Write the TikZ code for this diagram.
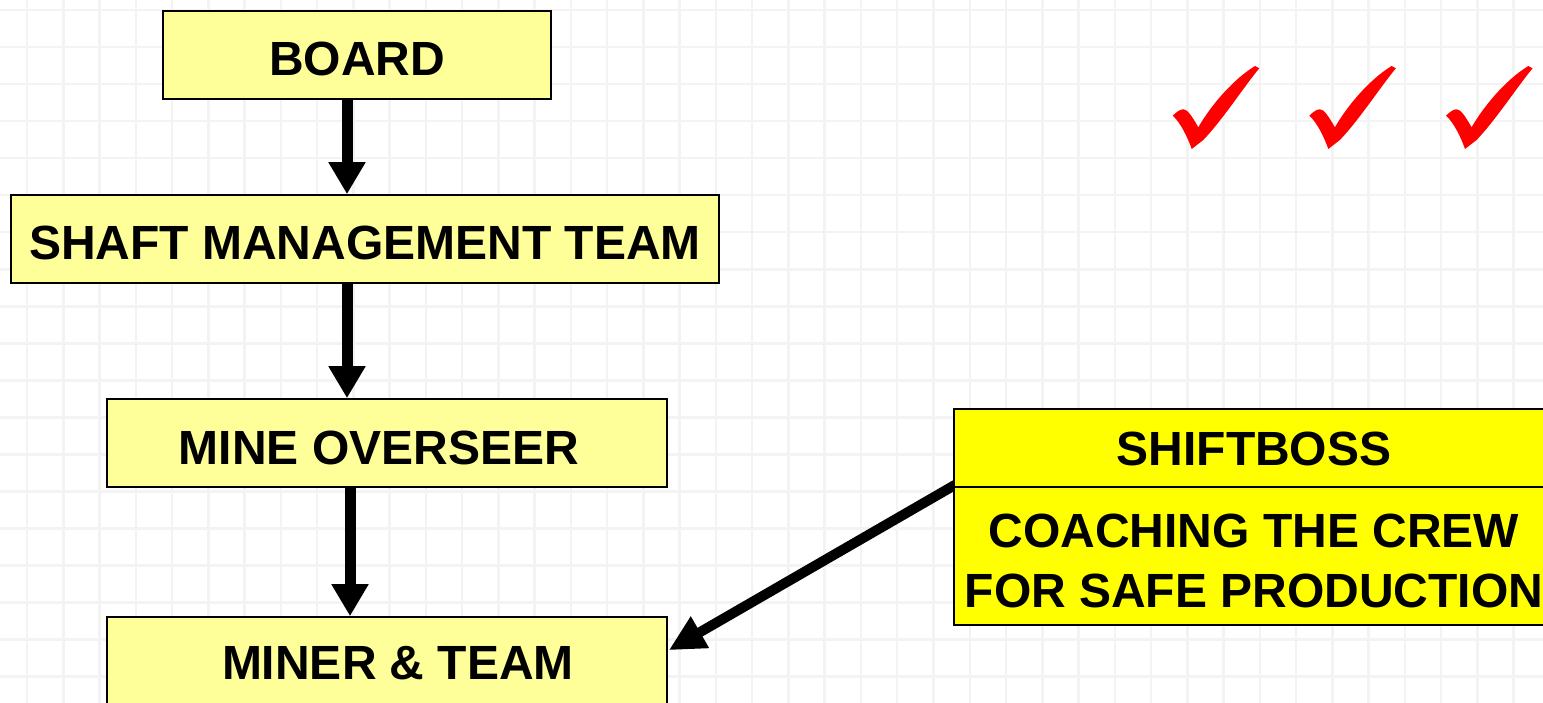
\documentclass[tikz,border=0pt]{standalone}
\usepackage{fontspec}
\setmainfont{Liberation Sans}
\usetikzlibrary{arrows.meta,calc}
\definecolor{paleyellow}{HTML}{FFFF99}
\definecolor{brightyellow}{HTML}{FFFF00}
\definecolor{gridgray}{HTML}{F3F3F3}
\definecolor{checkred}{HTML}{FF0000}
\pgfdeclarelayer{bg}
\pgfsetlayers{bg,main}
\begin{document}
\begin{tikzpicture}[x=1pt,y=1pt,
  box/.style={draw=black,line width=1.6pt,fill=paleyellow,inner sep=0pt,minimum height=88pt,
    font=\bfseries\fontsize{48}{60}\selectfont,text height=42pt,text depth=0pt},
  boxtext/.style={font=\bfseries\fontsize{48}{60}\selectfont,align=center,inner sep=0pt},
  arr/.style={line width=11pt,-{Triangle[width=35pt,length=32pt]}},
  diagarr/.style={line width=10pt,-{Triangle[width=34pt,length=36pt]}},
  gridline/.style={gridgray,line width=2.5pt},
  redtick/.pic={\fill[checkred] (0,0) .. controls (4,4) and (7.5,6.4) .. (10.6,6.4)
      .. controls (14.5,6.4) and (19,0) .. (25.6,-11.6)
      .. controls (38,10) and (60,36) .. (82.3,49.7) -- (86.6,47.4)
      .. controls (72,30) and (50,-4) .. (30.6,-24.3) -- (19,-33.3)
      .. controls (15,-22) and (8,-7) .. cycle;}
]
\useasboundingbox (0,0) rectangle (1543,703);
\clip (0,0) rectangle (1543,703);
\begin{pgfonlayer}{bg}
\fill[white] (0,0) rectangle (1543,703);
\foreach \k in {0,...,42} \draw[gridline] (27+36.26*\k,0) -- ++(0,703);
\foreach \k in {0,...,19} \draw[gridline] (0,693-37.04*\k) -- ++(1543,0);
\end{pgfonlayer}

\node[box,minimum width=388pt] (board) at (357,648) {BOARD};
\node[box,minimum width=708pt] (shaft) at (365,464) {SHAFT MANAGEMENT TEAM};
\node[box,minimum width=560pt] (mine) at (387,260) {};
\node[boxtext] (minetext) at (379,255) {MINE OVERSEER};
\node[box,minimum width=560pt,minimum height=96pt] (miner) at (387,38) {};
\node[boxtext] (minertext) at (398,40) {MINER \& TEAM};
\node[box,fill=brightyellow,minimum width=600pt,minimum height=78pt,text height=34.4pt] (shift) at (1254,255) {SHIFTBOSS};
\node[box,fill=brightyellow,minimum width=600pt,minimum height=138pt] (coach) at (1254,147) {};
\node[boxtext] (coachtext) at ([yshift=-5pt]coach.center) {COACHING THE CREW\\FOR SAFE PRODUCTION};

\draw[arr] ([xshift=-10pt]board.south) -- ([xshift=-10pt]board.south |- shaft.north);
\draw[arr] ([xshift=-18pt]shaft.south) -- ([xshift=-18pt]shaft.south |- mine.north);
\draw[arr] ([xshift=-37pt]mine.south) -- ([xshift=-37pt]mine.south |- miner.north);
\begin{pgfonlayer}{bg}
\draw[diagarr] ([xshift=2pt,yshift=3pt]shift.south west) -- ($(miner.north east)+(1,-34)$);
\end{pgfonlayer}

\pic at (1172.7,587.3) {redtick};
\pic at (1309.3,587.3) {redtick};
\pic at (1446,587.3) {redtick};
\end{tikzpicture}
\end{document}
